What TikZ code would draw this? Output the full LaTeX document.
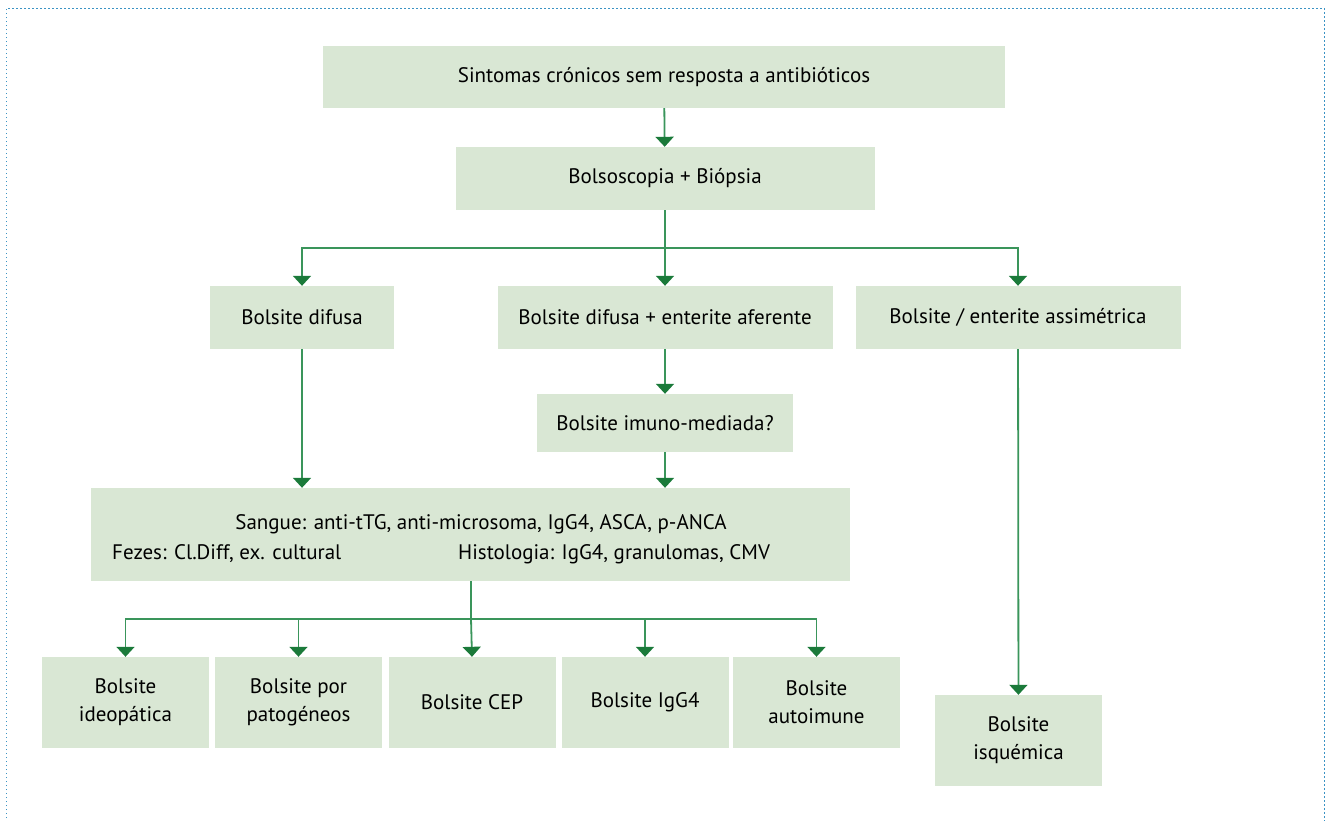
\documentclass[tikz,border=0pt]{standalone}
\usepackage{fontspec}
\setmainfont{PT Sans}
\usetikzlibrary{arrows.meta}
\definecolor{boxfill}{HTML}{D9E7D4}
\definecolor{linegreen}{HTML}{3A955B}
\definecolor{tipgreen}{HTML}{1B7A3A}
\definecolor{frameblue}{HTML}{3B93C4}
\tikzset{
  box/.style={fill=boxfill, draw=none, inner sep=0pt, align=center, font=\fontsize{21}{28}\selectfont, text=black},
  conn/.style={draw=linegreen, line width=1.8pt},
  arr/.style={conn, -{Triangle[length=10pt,width=18pt,color=tipgreen]}},
  txt/.style={inner sep=0pt, font=\fontsize{21}{25}\selectfont, text=black},
  frame/.style={draw=frameblue, line width=1pt, dash pattern=on 1.5pt off 2.5pt}
}
\begin{document}
\begin{tikzpicture}[x=1pt,y=-1pt]
\useasboundingbox (0,0) rectangle (1329,820);
\draw[frame] (6,830) -- (6,8) -- (1324,8) -- (1324,830);

\node[box, minimum width=682pt, minimum height=62pt] (s) at (664,77) {Sintomas crónicos sem resposta a antibióticos};
\node[box, minimum width=419pt, minimum height=63pt] (b) at (665,178.5) {Bolsoscopia + Biópsia};
\node[box, minimum width=184pt, minimum height=63pt] (d1) at (302,317.5) {Bolsite difusa};
\node[box, minimum width=335pt, minimum height=63pt] (d2) at (665,317.5) {Bolsite difusa + enterite aferente};
\node[box, minimum width=325pt, minimum height=63pt] (d3) at (1018,317.5) {Bolsite / enterite assimétrica};
\node[box, minimum width=256pt, minimum height=58pt] (im) at (665,423) {Bolsite imuno-mediada?};
\node[box, minimum width=759pt, minimum height=93pt] (big) at (470.5,534.5) {};
\node[txt, anchor=base] (t1) at (481,529) {Sangue: anti-tTG, anti-microsoma, IgG4, ASCA, p-ANCA};
\node[txt, anchor=base west] (t2) at (112,559) {Fezes: Cl.Diff, ex. cultural};
\node[txt, anchor=base west] (t3) at (458,559) {Histologia: IgG4, granulomas, CMV};

\node[box, minimum width=167pt, minimum height=91pt] (r1) at (125.5,702.5) {Bolsite\\ideopática};
\node[box, minimum width=167pt, minimum height=91pt] (r2) at (298.5,702.5) {Bolsite por\\patogéneos};
\node[box, minimum width=167pt, minimum height=91pt] (r3) at (472,702.5) {Bolsite CEP};
\node[box, minimum width=167pt, minimum height=91pt] (r4) at (645,702.5) {Bolsite IgG4};
\node[box, minimum width=167pt, minimum height=91pt] (r5) at (816.5,702.5) {Bolsite\\autoimune};
\node[box, minimum width=167pt, minimum height=91pt] (isq) at (1018.5,740.5) {Bolsite\\isquémica};

\coordinate (sp1) at (665,248);
\coordinate (sp2) at (471,619);

\draw[arr] (s) -- (b);
\draw[conn] (b) -- (sp1);
\draw[arr] (sp1) -| (d1.north);
\draw[arr] (sp1) -- (d2.north);
\draw[arr] (sp1) -| (d3.north);
\draw[arr] (d2) -- (im);
\draw[arr] (im) -- (im |- big.north);
\draw[arr] (d1) -- (d1 |- big.north);
\draw[arr] (d3) -- (isq);
\draw[conn] (big.south -| sp2) -- (sp2);
\draw[arr] (sp2) -| (r1.north);
\draw[arr] (sp2) -| (r2.north);
\draw[arr] (sp2) -- (r3.north);
\draw[arr] (sp2) -| (r4.north);
\draw[arr] (sp2) -| (r5.north);
\end{tikzpicture}
\end{document}
